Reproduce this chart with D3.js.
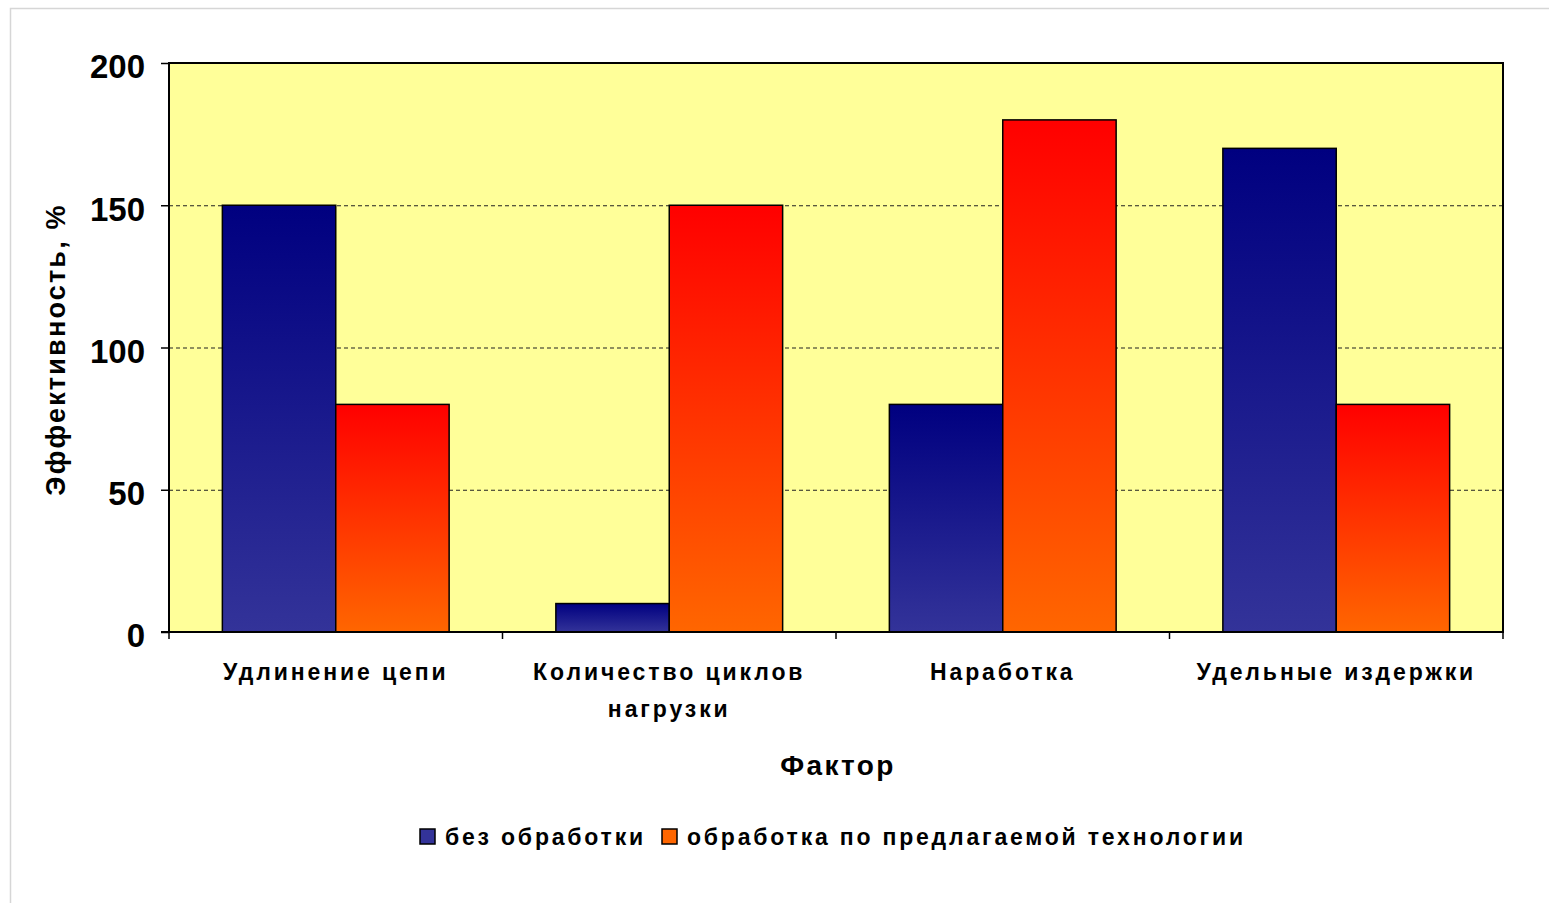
<!DOCTYPE html>
<html>
<head>
<meta charset="utf-8">
<script src="https://cdn.jsdelivr.net/npm/d3@7"></script>
<style>
  html, body { margin: 0; padding: 0; background: #fff; }
  svg { display: block; }
  text { font-family: "Liberation Sans", Arial, sans-serif; font-weight: bold; fill: #000; }
</style>
</head>
<body>
<svg id="chart" width="1549" height="903"></svg>
<script>
// Chart data
const categories = [["Удлинение цепи"], ["Количество циклов", "нагрузки"], ["Наработка"], ["Удельные издержки"]];
const seriesNames = ["без обработки", "обработка по предлагаемой технологии"];
const untreated = [150, 10, 80, 170];
const treated = [80, 150, 180, 80];
const yTicks = [0, 50, 100, 150, 200];

const svg = d3.select("#chart");
const W = 1549, H = 903;
const plot = { left: 169, top: 63, right: 1503, bottom: 632 };

// Outer chart frame
svg.append("rect")
  .attr("x", 10.5).attr("y", 8.5)
  .attr("width", W + 20).attr("height", H + 20)
  .attr("fill", "#fff").attr("stroke", "#d6d6d6").attr("stroke-width", 1.5);

// Gradients for each series
const defs = svg.append("defs");
const gradStops = [["#000080", "#333399"], ["#ff0000", "#ff6600"]];
gradStops.forEach((c, i) => {
  const g = defs.append("linearGradient").attr("id", "grad" + i)
    .attr("x1", 0).attr("y1", 0).attr("x2", 0).attr("y2", 1);
  g.append("stop").attr("offset", "0%").attr("stop-color", c[0]);
  g.append("stop").attr("offset", "100%").attr("stop-color", c[1]);
});

const x0 = d3.scaleBand()
  .domain(d3.range(categories.length))
  .range([plot.left, plot.right])
  .paddingInner(0.32).paddingOuter(0.16);
const x1 = d3.scaleBand().domain([0, 1]).range([0, x0.bandwidth()]);
const y = d3.scaleLinear().domain([0, 200]).range([plot.bottom, plot.top]);

// Plot background
svg.append("rect")
  .attr("x", plot.left).attr("y", plot.top)
  .attr("width", plot.right - plot.left).attr("height", plot.bottom - plot.top)
  .attr("fill", "#ffff99");

// Dashed gridlines
svg.append("g")
  .selectAll("line")
  .data(yTicks.filter(t => t > 0 && t < 200))
  .join("line")
  .attr("x1", plot.left).attr("x2", plot.right)
  .attr("y1", d => y(d) + 0.5).attr("y2", d => y(d) + 0.5)
  .attr("stroke", "#222").attr("stroke-width", 1.2)
  .attr("stroke-dasharray", "4,3");

// Bars
const series = [untreated, treated];
series.forEach((vals, s) => {
  svg.append("g")
    .selectAll("rect")
    .data(vals)
    .join("rect")
    .attr("x", (d, i) => x0(i) + x1(s))
    .attr("y", d => y(d))
    .attr("width", x1.bandwidth())
    .attr("height", d => y(0) - y(d))
    .attr("fill", "url(#grad" + s + ")")
    .attr("stroke", "#000").attr("stroke-width", 1.5);
});

// Plot frame
svg.append("rect")
  .attr("x", plot.left).attr("y", plot.top)
  .attr("width", plot.right - plot.left).attr("height", plot.bottom - plot.top)
  .attr("fill", "none").attr("stroke", "#000").attr("stroke-width", 2);

// Y axis
const yAxis = d3.axisLeft(y).tickValues(yTicks).tickSize(8).tickPadding(16);
const gy = svg.append("g").attr("transform", `translate(${plot.left},0)`).call(yAxis);
gy.select(".domain").remove();
gy.selectAll(".tick line").attr("stroke", "#000").attr("stroke-width", 1.5);
gy.selectAll(".tick text")
  .attr("dy", "0.45em")
  .style("font-size", "33px").style("font-family", "'Liberation Sans', Arial, sans-serif")
  .style("font-weight", "bold").attr("fill", "#000");

// X axis: ticks at category boundaries
const boundaries = d3.range(categories.length + 1).map(i => plot.left + i * (plot.right - plot.left) / categories.length);
svg.append("g").selectAll("line").data(boundaries).join("line")
  .attr("x1", d => d).attr("x2", d => d)
  .attr("y1", plot.bottom).attr("y2", plot.bottom + 7)
  .attr("stroke", "#000").attr("stroke-width", 1.5);
svg.append("line")
  .attr("x1", plot.left - 8).attr("x2", plot.right)
  .attr("y1", plot.bottom).attr("y2", plot.bottom)
  .attr("stroke", "#000").attr("stroke-width", 2);

// Category labels
categories.forEach((lines, i) => {
  const t = svg.append("text")
    .attr("x", x0(i) + x0.bandwidth() / 2)
    .attr("y", 680)
    .attr("text-anchor", "middle")
    .style("font-size", "23px")
    .style("letter-spacing", "2.9px");
  lines.forEach((ln, k) => {
    t.append("tspan").attr("x", x0(i) + x0.bandwidth() / 2).attr("dy", k === 0 ? 0 : 37).text(ln);
  });
});

// Axis titles
svg.append("text")
  .attr("transform", `translate(65,${(plot.top + plot.bottom) / 2 + 2}) rotate(-90)`)
  .attr("text-anchor", "middle")
  .style("font-size", "27px")
  .style("letter-spacing", "2.2px")
  .text("Эффективность, %");

svg.append("text")
  .attr("x", (plot.left + plot.right) / 2 + 2).attr("y", 775)
  .attr("text-anchor", "middle")
  .style("font-size", "28px")
  .style("letter-spacing", "2.4px")
  .text("Фактор");

// Legend
const legend = svg.append("g");
const legendItems = [
  { name: seriesNames[0], color: "#333399", x: 420 },
  { name: seriesNames[1], color: "#ff6600", x: 662 }
];
legendItems.forEach(it => {
  legend.append("rect")
    .attr("x", it.x).attr("y", 829).attr("width", 15).attr("height", 15)
    .attr("fill", it.color).attr("stroke", "#000").attr("stroke-width", 1.5);
  legend.append("text")
    .attr("x", it.x + 25).attr("y", 845)
    .style("font-size", "23px")
    .style("letter-spacing", "2.8px")
    .text(it.name);
});
</script>
</body>
</html>
